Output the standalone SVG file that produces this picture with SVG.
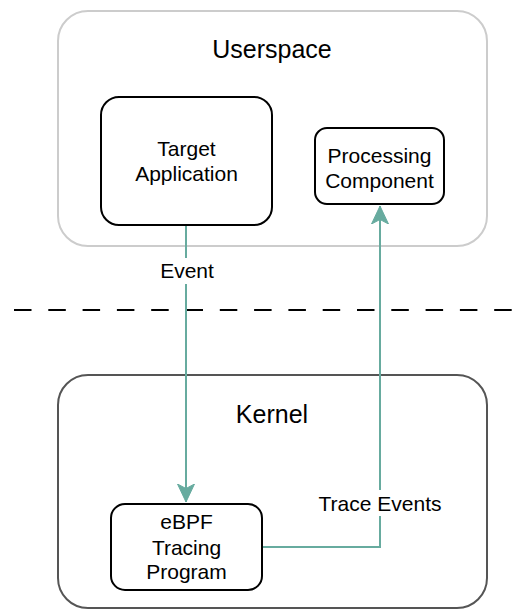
<svg xmlns="http://www.w3.org/2000/svg" width="523" height="610" viewBox="0 0 523 610">
<style>
text{font-family:"Liberation Sans",Arial,sans-serif;fill:#000;text-anchor:middle}
.t{font-size:21px}
.h{font-size:25px}
.node{fill:#fff;stroke:#000;stroke-width:2}
.conn{fill:none;stroke:#67AB9F;stroke-width:2}
</style>
<defs>
<marker id="ah" viewBox="0 0 20 20" refX="18" refY="10" markerWidth="20" markerHeight="20" markerUnits="userSpaceOnUse" orient="auto">
<path d="M0,1.5 L18,10 L0,18.5 L4.5,10 Z" fill="#67AB9F" stroke="#67AB9F" stroke-width="1"/>
</marker>
</defs>
<rect width="523" height="610" fill="#fff"/>
<g id="userspace">
<rect x="58" y="11" width="429" height="235" rx="30" fill="#fff" stroke="#ccc" stroke-width="2"/>
<text class="h" x="272" y="58">Userspace</text>
</g>
<g id="kernel">
<rect x="58" y="375" width="429" height="233" rx="30" fill="#fff" stroke="#555" stroke-width="2"/>
<text class="h" x="272" y="423">Kernel</text>
</g>
<line id="boundary" x1="14" y1="310" x2="512" y2="310" stroke="#000" stroke-width="2" stroke-dasharray="17.5 16.8"/>
<g id="connectors">
<path class="conn" d="M186,225 V502" marker-end="url(#ah)"/>
<path class="conn" d="M262,547 H380 V206" marker-end="url(#ah)"/>
<rect x="156" y="258" width="62" height="26" fill="#fff"/>
<text class="t" x="187" y="278">Event</text>
<rect x="315" y="490" width="130" height="26" fill="#fff"/>
<text class="t" x="380" y="511">Trace Events</text>
</g>
<g id="target-application">
<rect class="node" x="101" y="97" width="171" height="128" rx="18"/>
<text class="t" x="186.5" y="156">Target</text>
<text class="t" x="186.5" y="181">Application</text>
</g>
<g id="processing-component">
<rect class="node" x="315" y="128" width="129" height="76" rx="12"/>
<text class="t" x="379.5" y="163">Processing</text>
<text class="t" x="379.5" y="188">Component</text>
</g>
<g id="ebpf-tracing-program">
<rect class="node" x="111" y="504" width="151" height="86" rx="14"/>
<text class="t" x="186.5" y="529">eBPF</text>
<text class="t" x="186.5" y="555">Tracing</text>
<text class="t" x="186.5" y="579">Program</text>
</g>
</svg>
